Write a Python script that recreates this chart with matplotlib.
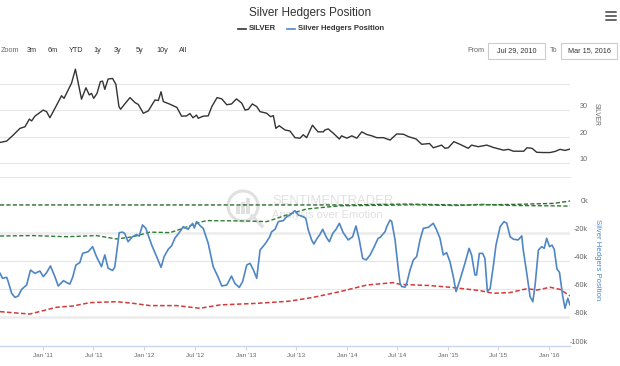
import numpy as np
import matplotlib
matplotlib.use('Agg')
import matplotlib.pyplot as plt
from matplotlib.patches import Rectangle, Circle

plt.rcParams['font.family'] = ['Liberation Sans', 'DejaVu Sans']

# silver price (top pane)
silver_dates = [
    '2010-07-29', '2010-08-22', '2010-09-15', '2010-10-09', '2010-10-27', '2010-11-12', '2010-11-20', '2010-12-02', '2011-01-01', '2011-01-13',
    '2011-01-25', '2011-02-12', '2011-03-08', '2011-03-17', '2011-04-01', '2011-04-13', '2011-04-27', '2011-05-19', '2011-06-04', '2011-06-16',
    '2011-06-24', '2011-07-02', '2011-07-14', '2011-07-26', '2011-08-03', '2011-08-11', '2011-08-23', '2011-09-08', '2011-09-20', '2011-10-01',
    '2011-10-07', '2011-10-19', '2011-11-10', '2011-11-28', '2011-12-10', '2011-12-28', '2012-01-15', '2012-02-08', '2012-02-20', '2012-03-01',
    '2012-03-09', '2012-04-02', '2012-04-27', '2012-05-14', '2012-06-01', '2012-06-13', '2012-06-24', '2012-07-07', '2012-07-13', '2012-07-31',
    '2012-08-18', '2012-08-31', '2012-09-19', '2012-10-06', '2012-10-24', '2012-11-10', '2012-11-28', '2012-12-17', '2012-12-29', '2013-01-10',
    '2013-01-24', '2013-02-09', '2013-02-21', '2013-03-17', '2013-03-31', '2013-04-10', '2013-04-19', '2013-05-01', '2013-05-22', '2013-06-09',
    '2013-06-27', '2013-07-15', '2013-07-27', '2013-08-08', '2013-08-29', '2013-09-18', '2013-10-07', '2013-10-13', '2013-10-25', '2013-11-12',
    '2013-12-04', '2013-12-12', '2013-12-31', '2014-01-18', '2014-02-05', '2014-02-23', '2014-03-13', '2014-03-31', '2014-04-18', '2014-05-12',
    '2014-06-05', '2014-06-29', '2014-07-23', '2014-08-10', '2014-09-07', '2014-09-27', '2014-10-25', '2014-11-08', '2014-12-08', '2014-12-20',
    '2015-01-01', '2015-01-21', '2015-02-12', '2015-03-14', '2015-03-26', '2015-04-19', '2015-05-20', '2015-06-13', '2015-07-19', '2015-08-06',
    '2015-08-24', '2015-09-30', '2015-10-12', '2015-10-30', '2015-11-16', '2015-12-10', '2016-01-03', '2016-01-21', '2016-02-08', '2016-02-26',
    '2016-03-15']
silver_values = [
    17.9, 18.4, 20.7, 23.2, 23.8, 26.7, 26.0, 27.8, 30.1, 29.5,
    27.2, 30.7, 35.5, 34.5, 37.7, 40.2, 45.5, 34.2, 38.5, 35.8,
    36.4, 34.5, 36.4, 40.8, 41.0, 37.9, 41.8, 42.0, 39.8, 31.4,
    30.4, 32.0, 34.8, 32.9, 32.2, 28.9, 29.8, 33.9, 33.7, 37.0,
    33.3, 32.3, 31.1, 27.8, 27.9, 28.8, 27.2, 28.2, 27.0, 27.8,
    27.9, 31.4, 34.8, 34.3, 32.1, 32.4, 34.3, 32.7, 30.1, 30.4,
    32.4, 31.4, 29.5, 28.9, 27.6, 28.0, 23.2, 24.2, 22.6, 22.2,
    19.7, 19.5, 20.8, 19.7, 24.4, 21.9, 21.9, 22.6, 23.0, 21.4,
    19.2, 20.4, 19.5, 20.4, 19.5, 21.9, 20.9, 20.4, 19.7, 19.7,
    18.8, 21.1, 21.0, 20.1, 19.2, 17.2, 17.5, 15.9, 16.9, 15.7,
    15.9, 18.2, 17.2, 15.7, 16.9, 16.3, 16.9, 16.0, 15.0, 15.3,
    14.6, 14.6, 15.9, 15.7, 14.2, 14.1, 14.1, 14.5, 15.3, 14.9,
    15.4]

# hedgers net position, thousands of contracts (bottom pane)
hedger_dates = [
    '2010-07-29', '2010-08-07', '2010-08-22', '2010-08-27', '2010-09-09', '2010-09-21', '2010-10-03', '2010-10-15',
    '2010-11-02', '2010-11-16', '2010-12-02', '2010-12-20', '2011-01-01', '2011-01-13', '2011-01-27', '2011-02-12',
    '2011-02-24', '2011-03-15', '2011-03-27', '2011-04-07', '2011-04-17', '2011-04-29', '2011-05-13', '2011-05-23',
    '2011-06-12', '2011-06-28', '2011-07-12', '2011-07-30', '2011-08-11', '2011-08-23', '2011-09-08', '2011-09-16',
    '2011-10-02', '2011-10-14', '2011-10-22', '2011-11-03', '2011-11-19', '2011-12-04', '2011-12-13', '2011-12-25',
    '2012-01-06', '2012-01-27', '2012-02-14', '2012-03-01', '2012-03-12', '2012-03-27', '2012-04-08', '2012-04-20',
    '2012-05-08', '2012-05-20', '2012-06-07', '2012-06-13', '2012-06-23', '2012-06-29', '2012-07-07', '2012-07-21',
    '2012-07-31', '2012-08-18', '2012-09-05', '2012-09-23', '2012-10-06', '2012-10-24', '2012-11-10', '2012-11-22',
    '2012-12-08', '2012-12-20', '2013-01-04', '2013-01-16', '2013-01-28', '2013-02-09', '2013-02-21', '2013-03-13',
    '2013-03-28', '2013-04-04', '2013-04-16', '2013-04-28', '2013-05-16', '2013-05-28', '2013-06-09', '2013-06-27',
    '2013-07-09', '2013-07-27', '2013-08-05', '2013-08-14', '2013-08-26', '2013-09-03', '2013-09-15', '2013-09-24',
    '2013-10-05', '2013-10-17', '2013-10-29', '2013-11-10', '2013-11-22', '2013-12-04', '2013-12-18', '2014-01-05',
    '2014-01-21', '2014-02-02', '2014-02-14', '2014-02-26', '2014-03-11', '2014-03-25', '2014-04-08', '2014-04-23',
    '2014-04-30', '2014-05-18', '2014-05-24', '2014-06-05', '2014-06-11', '2014-06-23', '2014-07-05', '2014-07-11',
    '2014-07-17', '2014-07-29', '2014-08-04', '2014-08-16', '2014-08-28', '2014-09-09', '2014-09-21', '2014-10-03',
    '2014-10-21', '2014-11-08', '2014-11-20', '2014-12-02', '2014-12-14', '2014-12-26', '2015-01-07', '2015-01-19',
    '2015-01-29', '2015-02-12', '2015-03-02', '2015-03-17', '2015-03-26', '2015-04-07', '2015-04-13', '2015-04-23',
    '2015-05-05', '2015-05-13', '2015-05-22', '2015-06-01', '2015-06-13', '2015-06-22', '2015-07-07', '2015-07-21',
    '2015-07-31', '2015-08-12', '2015-08-24', '2015-09-10', '2015-09-23', '2015-09-28', '2015-10-11', '2015-10-23',
    '2015-11-02', '2015-11-10', '2015-11-22', '2015-12-04', '2015-12-13', '2015-12-22', '2016-01-01', '2016-01-10',
    '2016-01-18', '2016-01-28', '2016-02-06', '2016-02-18', '2016-02-26', '2016-03-07', '2016-03-15']
hedger_values = [
    -48.4, -52.0, -51.3, -54.0, -62.7, -65.6, -64.6, -59.9,
    -56.8, -46.1, -48.5, -46.8, -50.8, -48.0, -43.2, -50.8,
    -57.5, -53.7, -55.1, -56.1, -51.3, -42.5, -40.8, -34.2,
    -33.0, -29.4, -36.5, -43.7, -35.3, -44.8, -46.4, -44.0,
    -19.4, -19.0, -20.0, -25.9, -22.3, -20.7, -21.9, -13.9,
    -16.3, -28.2, -36.5, -44.2, -36.5, -31.2, -28.8, -23.3,
    -18.7, -15.1, -17.0, -15.0, -12.8, -16.0, -11.5, -14.6,
    -16.3, -27.0, -43.7, -51.3, -57.5, -56.8, -50.4, -55.6,
    -58.5, -54.4, -42.5, -41.3, -46.0, -52.0, -31.8, -27.0,
    -22.3, -18.7, -17.0, -11.5, -10.8, -8.0, -6.8, -3.7,
    -6.8, -8.0, -9.2, -17.5, -24.6, -27.5, -23.4, -21.0,
    -17.0, -22.3, -25.9, -20.0, -17.0, -12.7, -19.4, -24.6,
    -22.3, -14.6, -24.6, -37.7, -38.9, -35.3, -29.8, -23.4,
    -22.8, -18.7, -15.1, -10.4, -11.5, -24.6, -46.1, -55.6,
    -57.9, -58.3, -55.6, -46.1, -38.9, -36.5, -24.6, -16.3,
    -15.6, -12.7, -17.5, -23.4, -35.3, -33.7, -40.1, -50.8,
    -61.5, -53.2, -41.3, -30.6, -35.3, -49.6, -49.6, -34.2,
    -34.2, -37.7, -61.5, -59.2, -42.5, -28.3, -15.1, -11.5,
    -12.7, -22.3, -24.1, -24.6, -21.7, -31.2, -48.4, -65.1,
    -68.7, -57.0, -31.8, -29.4, -30.6, -23.4, -29.4, -28.3,
    -31.2, -45.4, -47.7, -65.1, -73.4, -66.3, -71.0]

# lower band (red dashed)
low_band_dates = [
    '2010-07-29', '2010-10-09', '2010-11-14', '2011-01-01', '2011-02-18', '2011-04-20', '2011-06-18', '2011-09-22',
    '2011-11-22', '2012-01-21', '2012-04-27', '2012-07-19', '2012-09-30', '2013-02-09', '2013-06-09', '2013-09-01',
    '2013-12-07', '2014-03-13', '2014-06-16', '2014-07-11', '2014-10-28', '2015-01-18', '2015-04-25', '2015-06-12',
    '2015-08-12', '2015-10-12', '2015-11-17', '2016-01-03', '2016-02-08', '2016-03-15']
low_band_values = [
    -75.8, -77.0, -77.5, -75.1, -72.7, -71.7, -69.4, -68.7,
    -69.9, -71.5, -71.5, -73.4, -71.0, -69.9, -68.3, -65.6,
    -61.5, -56.8, -55.1, -56.3, -57.2, -58.6, -60.8, -62.7,
    -62.2, -59.4, -60.4, -58.4, -59.9, -64.6]

# upper band (green dashed)
high_band_dates = [
    '2010-07-29', '2010-11-24', '2011-03-27', '2011-07-12', '2011-09-22', '2011-11-21', '2012-01-21', '2012-04-02',
    '2012-05-19', '2012-07-19', '2012-08-12', '2012-12-10', '2013-03-17', '2013-04-22', '2013-06-09', '2013-08-08',
    '2013-12-07', '2014-06-05', '2014-08-27', '2015-01-29', '2015-04-25', '2015-08-23', '2016-02-08', '2016-03-15']
high_band_values = [
    -21.8, -21.5, -22.3, -21.5, -23.9, -22.3, -19.0, -19.4,
    -16.3, -12.0, -10.8, -11.0, -11.5, -9.2, -6.0, -2.5,
    -0.2, 0.2, 0.5, 0.0, 0.8, 0.0, -0.3, -0.5]

# top line (dark green dashed, near zero)
max_dates = ['2010-07-29', '2014-01-01', '2014-08-01', '2015-03-01', '2015-09-01', '2016-01-15', '2016-03-15']
max_values = [0.4, 0.4, 1.0, 0.3, 0.8, 1.5, 3.2]

xtick_dates = ['2011-01-01', '2011-07-01', '2012-01-01', '2012-07-01', '2013-01-01', '2013-07-01',
               '2014-01-01', '2014-07-01', '2015-01-01', '2015-07-01', '2016-01-01']
xtick_labels = ["Jan '11", "Jul '11", "Jan '12", "Jul '12", "Jan '13", "Jul '13",
                "Jan '14", "Jul '14", "Jan '15", "Jul '15", "Jan '16"]
silver_ticks = [10, 20, 30]
silver_grid = [10, 20, 30, 40]
hedger_ticks = [0, -20, -40, -60, -80, -100]
hedger_tick_labels = ['0k', '-20k', '-40k', '-60k', '-80k', '-100k']

def d(lst):
    return np.array(lst, dtype='datetime64[D]')

W, H = 620, 366
fig = plt.figure(figsize=(W / 100, H / 100), dpi=100)

# background layer in pixel coordinates
bg = fig.add_axes([0, 0, 1, 1], zorder=0)
bg.set_xlim(0, W)
bg.set_ylim(H, 0)
bg.axis('off')

def px_axes(x0, y0, x1, y1):
    a = fig.add_axes([x0 / W, 1 - y1 / H, (x1 - x0) / W, (y1 - y0) / H], zorder=2)
    a.set_facecolor('none')
    return a

ax_top = px_axes(0, 62, 570, 176.7)
ax_bot = px_axes(0, 190, 570, 345.5)
xlim = (np.datetime64('2010-07-29'), np.datetime64('2016-03-15'))

# ---- top pane
for v in silver_grid:
    ax_top.axhline(v, color='#e6e6e6', lw=0.8, zorder=0)
ax_top.plot(d(silver_dates), silver_values, color='#333333', lw=1.0)
ax_top.set_xlim(*xlim)
ax_top.set_ylim(5, 48.2)
ax_top.set_xticks([])
ax_top.set_yticks([])
for s in ['top', 'left', 'right']:
    ax_top.spines[s].set_visible(False)
ax_top.spines['bottom'].set_color('#e6e6e6')
ax_top.spines['bottom'].set_linewidth(0.8)
for v in silver_ticks:
    ax_top.annotate(str(v), xy=(1, v), xycoords=('axes fraction', 'data'), xytext=(18, 3.5),
                    textcoords='offset pixels', ha='right', va='center', fontsize=5.2, color='#666666')

# ---- bottom pane
for v in [-20, -40, -60, -80]:
    thick = v in (-20, -80)
    ax_bot.axhline(v, color='#ececec' if thick else '#e6e6e6', lw=1.8 if thick else 0.8, zorder=0)
dash = (0, (3, 1.6))
ax_bot.plot(d(max_dates), max_values, color='#2d6b2d', lw=1.0, ls=dash)
ax_bot.plot(d(high_band_dates), high_band_values, color='#2e7d32', lw=1.0, ls=dash)
ax_bot.plot(d(low_band_dates), low_band_values, color='#d43a3a', lw=1.1, ls=dash)
ax_bot.plot(d(hedger_dates), hedger_values, color='#4f86c6', lw=1.2)
ax_bot.set_xlim(*xlim)
ax_bot.set_ylim(-100, 11.07)
ax_bot.set_yticks([])
for s in ['top', 'left', 'right']:
    ax_bot.spines[s].set_visible(False)
ax_bot.spines['bottom'].set_color('#ccd6eb')
ax_bot.spines['bottom'].set_linewidth(1.0)
ax_bot.set_xticks(d(xtick_dates))
ax_bot.set_xticklabels(xtick_labels)
ax_bot.tick_params(axis='x', length=3, width=0.8, color='#ccd6eb', labelsize=4.6,
                   labelcolor='#666666', pad=2.5)
for v, lab in zip(hedger_ticks, hedger_tick_labels):
    ax_bot.annotate(lab, xy=(1, v), xycoords=('axes fraction', 'data'), xytext=(18, 3.5),
                    textcoords='offset pixels', ha='right', va='center', fontsize=5.2, color='#666666')

# axis titles
bg.text(596, 114, 'SILVER', rotation=270, ha='center', va='center', fontsize=4.8, color='#666666')
bg.text(597, 260, 'Silver Hedgers Position', rotation=270, ha='center', va='center',
        fontsize=5.6, color='#4f86c6')

# title and legend
bg.text(310, 13, 'Silver Hedgers Position', ha='center', va='center', fontsize=8.5, color='#333333')
bg.plot([238, 246], [29, 29], color='#333333', lw=1.2)
bg.text(249, 29, 'SILVER', ha='left', va='center', fontsize=5.6, fontweight='bold', color='#333333')
bg.plot([287, 295], [29, 29], color='#4f86c6', lw=1.2)
bg.text(298, 29, 'Silver Hedgers Position', ha='left', va='center', fontsize=5.6,
        fontweight='bold', color='#333333')

# hamburger menu
for yy in [11.5, 15.5, 19.5]:
    bg.plot([606, 616], [yy, yy], color='#666666', lw=1.4, solid_capstyle='round')

# range selector
bg.text(1, 50.5, 'Zoom', ha='left', va='center', fontsize=5.2, color='#666666')
for xx, lab in zip([27, 48, 69, 93, 114, 136, 156, 179],
                   ['3m', '6m', 'YTD', '1y', '3y', '5y', '10y', 'All']):
    bg.text(xx, 50.5, lab, ha='left', va='center', fontsize=5.2, color='#333333')
bg.text(467, 50.5, 'From', ha='left', va='center', fontsize=5.2, color='#666666')
bg.text(550, 50.5, 'To', ha='left', va='center', fontsize=5.2, color='#666666')
bg.add_patch(Rectangle((488, 43), 57, 16, fill=False, edgecolor='#cccccc', lw=0.8))
bg.add_patch(Rectangle((561, 43), 56, 16, fill=False, edgecolor='#cccccc', lw=0.8))
bg.text(516.5, 50.5, 'Jul 29, 2010', ha='center', va='center', fontsize=5.2, color='#333333')
bg.text(589, 50.5, 'Mar 15, 2016', ha='center', va='center', fontsize=5.2, color='#333333')

# watermark
wm = '#e0e0e0'
bg.add_patch(Circle((243, 206), 15, fill=False, edgecolor=wm, lw=2.2))
for bx, bh in [(236, 8), (241, 12), (246, 16)]:
    bg.add_patch(Rectangle((bx, 214 - bh), 3.5, bh, color=wm, lw=0))
bg.plot([252, 262], [216, 226], color=wm, lw=2.5)
bg.text(272, 201, 'SENTIMENTRADER', ha='left', va='center', fontsize=9.4, color=wm)
bg.text(272, 215, 'Analysis over Emotion', ha='left', va='center', fontsize=8, color=wm)

fig.savefig('out.png', dpi=100)
